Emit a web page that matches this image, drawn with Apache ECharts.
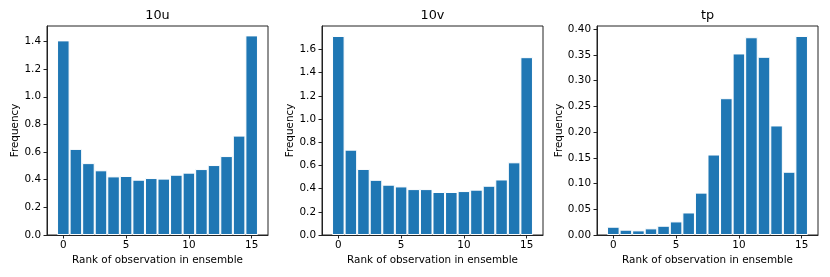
<!DOCTYPE html>
<html>
<head>
<meta charset="utf-8">
<script src="https://cdn.jsdelivr.net/npm/echarts@6/dist/echarts.min.js"></script>
<style>
html,body{margin:0;padding:0;background:#fff;}
#chart{width:830px;height:277px;}
</style>
</head>
<body>
<div id="chart"></div>
<script>
// ---- data ----
const ranks = [0,1,2,3,4,5,6,7,8,9,10,11,12,13,14,15];
const u10 = [1.408,0.623,0.520,0.468,0.424,0.427,0.400,0.412,0.408,0.436,0.451,0.477,0.506,0.571,0.719,1.444];
const v10 = [1.717,0.736,0.570,0.476,0.434,0.419,0.396,0.396,0.371,0.371,0.379,0.391,0.425,0.479,0.627,1.534];
const tp  = [0.0161,0.0103,0.0090,0.0129,0.0180,0.0264,0.0438,0.0824,0.1565,0.2660,0.3530,0.3845,0.3465,0.2130,0.1230,0.3870];
const titles = ['10u','10v','tp'];
const xTicks = [0,5,10,15];
const yTicksU = [0,0.2,0.4,0.6,0.8,1.0,1.2,1.4];
const yTicksV = [0,0.2,0.4,0.6,0.8,1.0,1.2,1.4,1.6];
const yTicksT = [0,0.05,0.10,0.15,0.20,0.25,0.30,0.35,0.40];
const yMax = [1.512, 1.803, 0.4064];
const yDecimals = [1,1,2];

// ---- layout ----
const font = 'DejaVu Sans';
const grids = [
  {left:47, top:26, width:221, height:209},
  {left:322, top:26, width:221, height:209},
  {left:597, top:26, width:221, height:209}
];
const series = [u10, v10, tp];
const yTicks = [yTicksU, yTicksV, yTicksT];
const nameGaps = [27, 27, 32];

const chart = echarts.init(document.getElementById('chart'), null, {renderer:'canvas'});
const option = {
  animation:false,
  backgroundColor:'#fff',
  title: titles.map((t,i)=>({
    text:t, left: grids[i].left + grids[i].width/2, top:9, textAlign:'center', padding:0,
    textStyle:{fontFamily:font, fontSize:12.8, fontWeight:'normal', color:'#000'}
  })),
  grid: grids.map(g=>Object.assign({show:true, borderColor:'#222', borderWidth:1, backgroundColor:'transparent', containLabel:false}, g)),
  xAxis: grids.map((g,i)=>({
    type:'value', gridIndex:i, min:-1.3, max:16.3, z:3,
    name:'Rank of observation in ensemble', nameLocation:'middle', nameGap:19,
    nameTextStyle:{fontFamily:font, fontSize:10.4, color:'#000'},
    axisLine:{show:true, onZero:false, lineStyle:{color:'#222', width:1}},
    axisTick:{show:true, length:3.5, lineStyle:{color:'#222'}, customValues:xTicks},
    axisLabel:{fontFamily:font, fontSize:10.4, color:'#000', margin:5.5, customValues:xTicks, formatter:v=>String(v)},
    splitLine:{show:false}
  })),
  yAxis: grids.map((g,i)=>({
    type:'value', gridIndex:i, min:0, max:yMax[i], z:3,
    name:'Frequency', nameLocation:'middle', nameGap:nameGaps[i], nameRotate:90,
    nameTextStyle:{fontFamily:font, fontSize:10.4, color:'#000'},
    axisLine:{show:true, onZero:false, lineStyle:{color:'#222', width:1}},
    axisTick:{show:true, length:3.5, lineStyle:{color:'#222'}, customValues:yTicks[i]},
    axisLabel:{fontFamily:font, fontSize:10.4, color:'#000', margin:6, customValues:yTicks[i], formatter:v=>v.toFixed(yDecimals[i])},
    splitLine:{show:false}
  })),
  series: series.map((arr,i)=>({
    type:'bar', xAxisIndex:i, yAxisIndex:i,
    data: ranks.map((r,j)=>[r, arr[j]]),
    barWidth:12.56,
    itemStyle:{color:'#1f77b4', borderColor:'#ffffff', borderWidth:1}
  }))
};
chart.setOption(option);
</script>
</body>
</html>
